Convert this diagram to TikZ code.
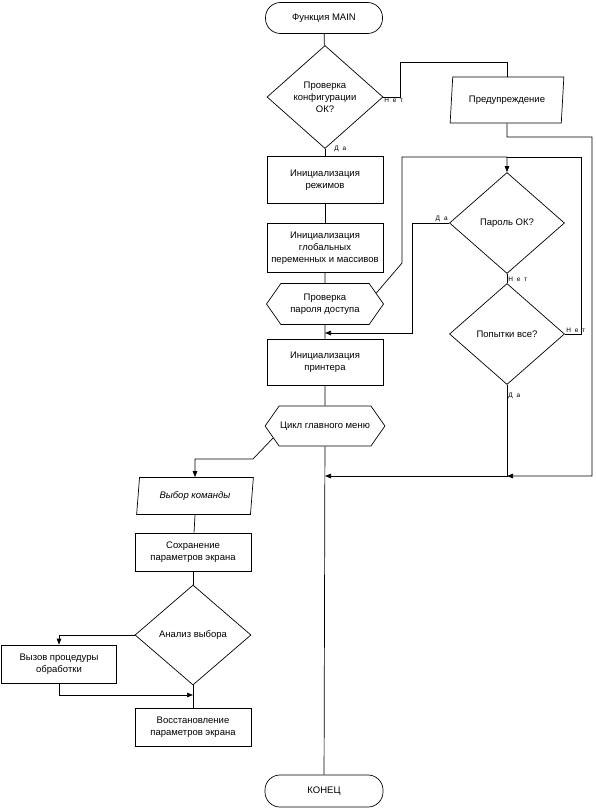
\documentclass[tikz,border=0pt]{standalone}
\usepackage{fontspec}
\setmainfont{Liberation Sans}
\newfontfamily\lblfont[LetterSpace=60]{Liberation Sans}
\usepackage{tikz}
\usetikzlibrary{shapes.geometric}
\usetikzlibrary{shapes.symbols}
\usetikzlibrary{arrows.meta}

\begin{document}
\begin{tikzpicture}[x=1pt,y=-1pt,line width=0.7pt,font=\fontsize{9.5}{12}\selectfont,
	box/.style={draw,rectangle,minimum width=116pt,minimum height=46pt,align=center,inner sep=1pt},
	term/.style={draw,rectangle,rounded corners=15pt,minimum width=117pt,minimum height=31pt},
	dec/.style={draw,diamond,aspect=1.1,minimum width=116pt,minimum height=102pt,align=center,inner sep=0pt},
	hex/.style={draw,signal,signal to=west and east,signal pointer angle=110,minimum width=117pt,minimum height=41pt,align=center,inner sep=1pt},
	io/.style={draw,trapezium,trapezium left angle=80,trapezium right angle=100,trapezium stretches=true,minimum width=114pt,minimum height=46pt,align=center,inner sep=1pt},
	lbl/.style={font=\lblfont\fontsize{6.5}{7}\selectfont,inner sep=1pt},
	>={Triangle[length=6pt,width=4.5pt]}]
		\useasboundingbox (0,0) rectangle (596,811);
		\node (start) at (324,18) [term] {Функция MAIN};
		\node (chk) at (325,97) [dec,minimum height=103pt] {Проверка\\конфигурации\\ОК?};
		\node (warn) at (507,100) [io] {Предупреждение};
		\node (ini) at (325,180) [box,minimum height=47pt] {Инициализация\\режимов};
		\node (glob) at (325,248) [box,minimum height=49pt] {Инициализация\\глобальных\\переменных и массивов};
		\node (pwd) at (325,304) [hex] {Проверка\\пароля доступа};
		\node (pok) at (507,223) [dec,minimum width=115pt,minimum height=101pt] {Пароль ОК?};
		\node (att) at (507,334) [dec,minimum width=115pt,minimum height=101pt] {Попытки все?};
		\node (prn) at (325,362) [box] {Инициализация\\принтера};
		\node (cyc) at (325,426) [hex,minimum width=118pt,minimum height=40pt] {Цикл главного меню};
		\node (sel) at (195,496) [io,minimum width=117pt,minimum height=37pt,font=\fontsize{9.5}{12}\itshape] {Выбор команды};
		\node (save) at (193,552) [box,minimum height=38pt] {Сохранение\\параметров экрана};
		\node (an) at (193,635) [dec,minimum height=100pt] {Анализ выбора};
		\node (call) at (59,664) [box,minimum width=115pt,minimum height=38pt] {Вызов процедуры\\обработки};
		\node (rest) at (193,727) [box,minimum height=38pt] {Восстановление\\параметров экрана};
		\node (stop) at (324,791) [term,minimum width=118pt,minimum height=32pt] {КОНЕЦ};
		\node (n1) at (383,97) [lbl,below right] {Нет};
		\node (d1) at (333,153) [lbl,above right] {Да};
		\node (d2) at (449,223) [lbl,above left] {Да};
		\node (n2) at (507,276) [lbl,below right] {Нет};
		\node (n3) at (565,334) [lbl,above right] {Нет};
		\node (d3) at (507,386) [lbl,below right,yshift=-6pt] {Да};
		\draw (start)--(chk);
		\draw (chk.east)--(400,97)--(400,62)-|(warn.north);
		\draw (chk)--(ini);
		\draw (ini)--(glob);
		\draw (glob)--(pwd);
		\draw (pwd)--(prn);
		\draw (prn)--(cyc);
		\draw (cyc)--(stop);
		\draw [->] (warn.south)--(507,137)--(592,137)--(592,476)--(507,476);
		\draw [->] (pwd.12)--(402,263)--(402,157)-|(pok.north);
		\draw (att.east)--(581,334)--(581,157)--(507,157);
		\draw (pok)--(att);
		\draw [->] (pok.west)--(412,223)--(412,333)--(325,333);
		\draw [->] (att.south)--(507,476)--(325,476);
		\draw [->] (cyc.193)--(253,459)-|(sel.north);
		\draw (sel.south)--(save);
		\draw (save)--(an);
		\draw [->] (an.west)-|(call.north);
		\draw (an)--(rest);
		\draw [->] (call.south)--(59,695)--(193,695);
\end{tikzpicture}
\end{document}
